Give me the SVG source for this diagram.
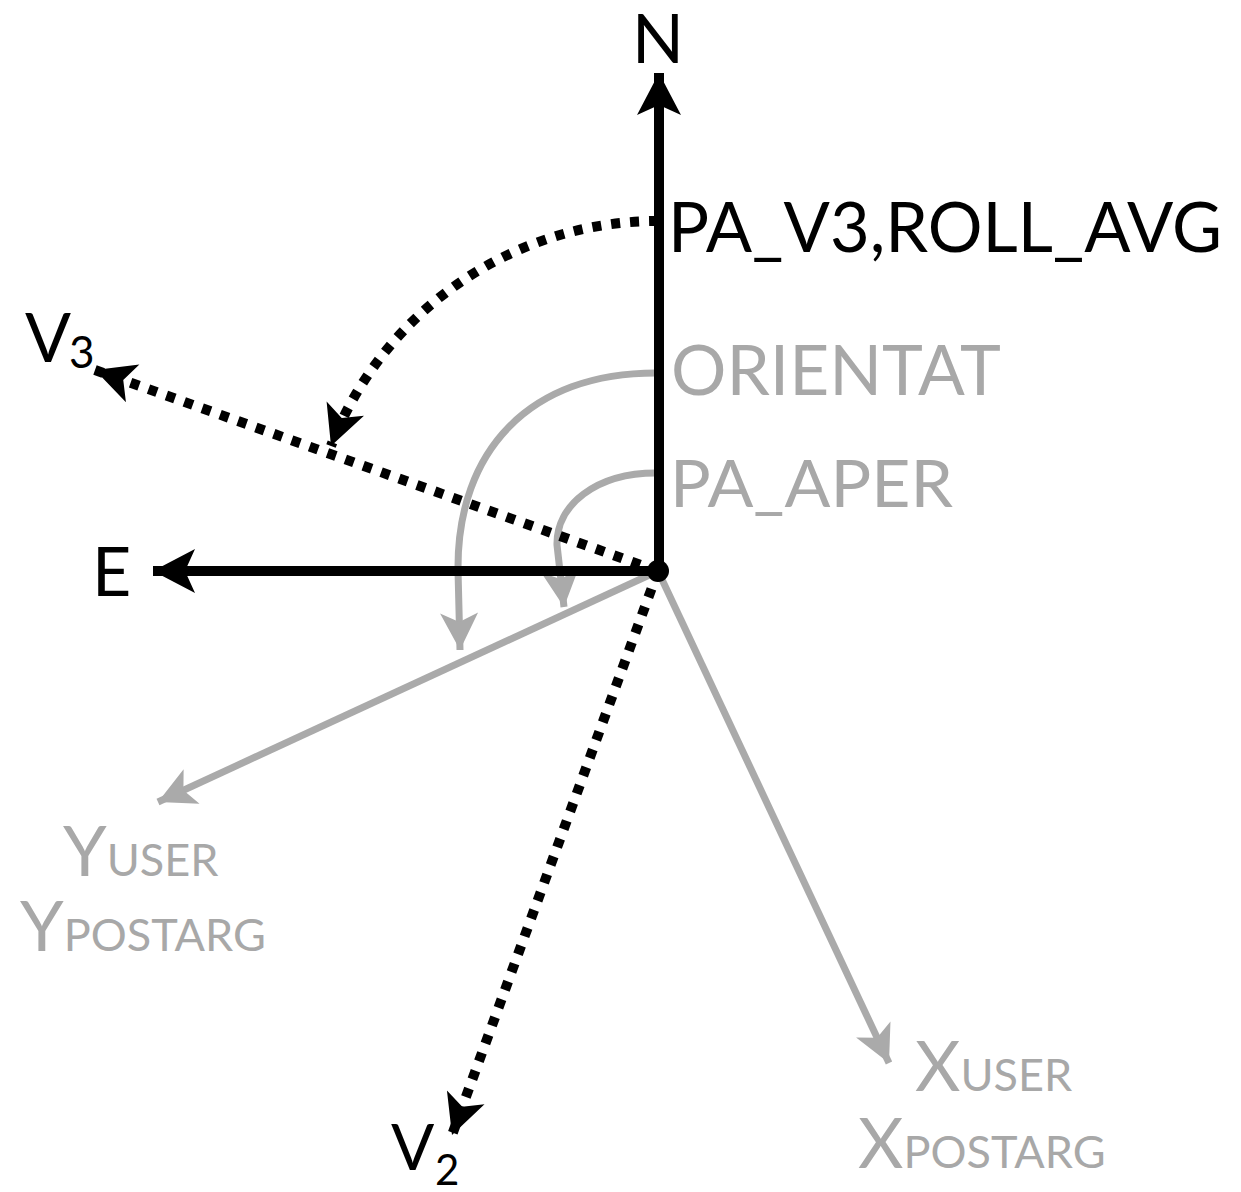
<svg xmlns="http://www.w3.org/2000/svg" width="1241" height="1192" viewBox="0 0 1241 1192">
<style>
.blk{fill:none;stroke:#000;stroke-width:10}
.dot{fill:none;stroke:#000;stroke-width:10;stroke-dasharray:9 10}
.gry{fill:none;stroke:#aaaaaa;stroke-width:7}
.t{font-family:Lato,"Open Sans","Liberation Sans",sans-serif}
.tk{fill:#000}
.tg{fill:#a8a8a8}
.sc{font-size:45px}
</style>
<defs>
<marker id="hb" markerUnits="userSpaceOnUse" viewBox="-46 -25 48 50" markerWidth="48" markerHeight="50" refX="0" refY="0" orient="auto">
<path d="M0,0 L-42,-22 L-32,0 L-42,22 Z" fill="#000"/>
</marker>
<marker id="hd" markerUnits="userSpaceOnUse" viewBox="-46 -25 48 50" markerWidth="48" markerHeight="50" refX="0" refY="0" orient="auto">
<path d="M0,0 L-40,-20 L-30,0 L-40,20 Z" fill="#000"/>
</marker>
<marker id="hg" markerUnits="userSpaceOnUse" viewBox="-46 -25 48 50" markerWidth="48" markerHeight="50" refX="0" refY="0" orient="auto">
<path d="M0,0 L-37,-19 L-28,0 L-37,19 Z" fill="#aaaaaa"/>
</marker>
</defs>
<rect width="1241" height="1192" fill="#fff"/>
<g id="connectors">
<path id="y-user-axis" class="gry" d="M658,571 L158,802" marker-end="url(#hg)"/>
<path id="x-user-axis" class="gry" d="M658,571 L889,1063" marker-end="url(#hg)"/>
<path id="orientat-arc" class="gry" d="M656,373 C530,373 457,450 458,570 L460,650" marker-end="url(#hg)"/>
<path id="pa-aper-arc" class="gry" d="M656,473 C596,473 556,505 557,545 L564,607" marker-end="url(#hg)"/>
<path id="v3-axis" class="dot" d="M658,571 L95,370" marker-end="url(#hd)"/>
<path id="v2-axis" class="dot" d="M658,571 L452,1135" marker-end="url(#hd)"/>
<path id="pa-v3-arc" class="dot" d="M658,221 A350,350 0 0 0 331,446" marker-end="url(#hd)"/>
<path id="n-axis" class="blk" d="M659,571 L659,73" marker-end="url(#hb)"/>
<path id="e-axis" class="blk" d="M659,571 L153,571" marker-end="url(#hb)"/>
</g>
<g id="origin"><circle cx="658" cy="571" r="11" fill="#000"/></g>
<g id="label-n"><text class="t tk" x="658" y="63" style="font-size:68px" text-anchor="middle">N</text></g>
<g id="label-e"><text class="t tk" x="92" y="596" style="font-size:68px">E</text></g>
<g id="label-pa-v3"><text class="t tk" x="668" y="252" style="font-size:70px" textLength="554" lengthAdjust="spacingAndGlyphs">PA_V3,ROLL_AVG</text></g>
<g id="label-orientat"><text class="t tg" x="671" y="395" style="font-size:70px" textLength="330" lengthAdjust="spacingAndGlyphs">ORIENTAT</text></g>
<g id="label-pa-aper"><text class="t tg" x="670" y="507" style="font-size:66px" textLength="283" lengthAdjust="spacingAndGlyphs">PA_APER</text></g>
<g id="label-v3"><text class="t tk" x="25" y="362" style="font-size:68px">V</text><text class="t tk" x="69" y="368" style="font-size:44px">3</text></g>
<g id="label-v2"><text class="t tk" x="391" y="1170" style="font-size:64px">V</text><text class="t tk" x="435" y="1185" style="font-size:42px">2</text></g>
<g id="label-y"><text class="t tg" x="63" y="876" style="font-size:70px">Y<tspan class="sc">USER</tspan></text>
<text class="t tg" x="20" y="951" style="font-size:70px">Y<tspan class="sc">POSTARG</tspan></text></g>
<g id="label-x"><text class="t tg" x="915" y="1091" style="font-size:70px">X<tspan class="sc">USER</tspan></text>
<text class="t tg" x="858" y="1168" style="font-size:70px">X<tspan class="sc">POSTARG</tspan></text></g>
</svg>
